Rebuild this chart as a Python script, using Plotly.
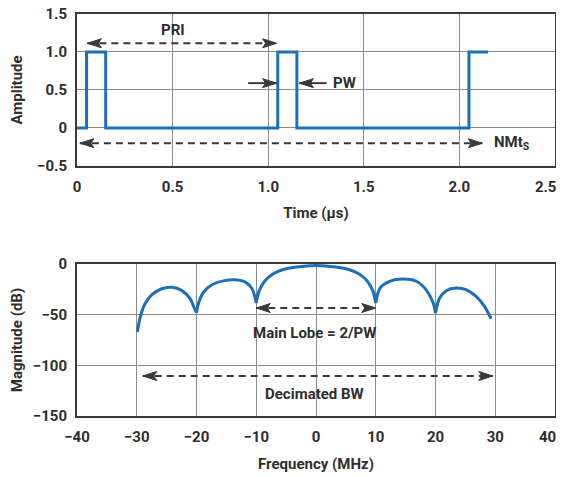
import plotly.graph_objects as go

# ---- data ----
time_us = [0, 0.05, 0.05, 0.15, 0.15, 1.05, 1.05, 1.15, 1.15, 2.05, 2.05, 2.15]
amplitude = [0, 0, 1, 1, 0, 0, 1, 1, 0, 0, 1, 1]

freq_mhz = [-29.9, -29.4, -28.6, -27.4, -25.8, -24.1, -22.5, -21.1, -20.4, -20.0,
            -19.6, -18.8, -17.4, -15.1, -13.5, -11.8, -10.7, -10.3, -10.0,
            -9.55, -8.6, -7.3, -5.6, -3.3, 0, 3.3, 5.6, 7.3, 8.6, 9.55, 10.0,
            10.3, 10.7, 12.3, 14.5, 16.8, 18.4, 19.7, 20.0,
            20.4, 20.7, 21.8, 23.5, 25.1, 26.8, 28.2, 29.3]
magnitude_db = [-67, -52, -39, -30, -24.4, -23, -26, -34, -43, -48,
                -37.5, -27.6, -20.4, -16.1, -15.5, -17.8, -24.4, -31, -38.5,
                -27, -17, -10, -5.6, -3, -1.5, -3, -5.6, -10, -17, -27, -38.5,
                -30, -23.7, -17, -14.8, -17, -25.3, -40, -48.4,
                -38, -33.5, -26.3, -23.7, -25.3, -31.9, -41.8, -54]
null_freqs = [-20.0, -10.0, 10.0, 20.0]

NB = "\u00a0"
top_xticks = [0, 0.5, 1.0, 1.5, 2.0, 2.5]
top_xlabels = ["0", "0.5", "1.0", "1.5", "2.0", "2.5" + NB * 5]
top_yticks = [-0.5, 0, 0.5, 1.0, 1.5]
top_ylabels = ["\u22120.5", "0", "0.5", "1.0", "1.5"]
bot_xticks = [-40, -30, -20, -10, 0, 10, 20, 30, 40]
bot_xlabels = ["\u221240", "\u221230", "\u221220", "\u221210", "0", "10", "20", "30", "40" + NB * 4]
bot_yticks = [-150, -100, -50, 0]
bot_ylabels = ["\u2212150", "\u2212100", "\u221250", "0"]

BLUE = "#1c6fb8"
TXT = "#2e2e2e"
GRID = "#8c8c8c"
FRAME = "#3a3a3a"
FONT = dict(family="Roboto", color=TXT, size=15, weight="bold")

fig = go.Figure()
fig.add_trace(go.Scatter(x=time_us, y=amplitude, mode="lines",
                         line=dict(color=BLUE, width=3), xaxis="x", yaxis="y",
                         showlegend=False))

# split spectrum at nulls so cusps stay sharp
seg_idx = [0] + [freq_mhz.index(f) for f in null_freqs] + [len(freq_mhz) - 1]
for a, b in zip(seg_idx[:-1], seg_idx[1:]):
    fig.add_trace(go.Scatter(x=freq_mhz[a:b + 1], y=magnitude_db[a:b + 1], mode="lines",
                             line=dict(color=BLUE, width=3, shape="spline", smoothing=0.8),
                             xaxis="x2", yaxis="y2", showlegend=False))

axis_common = dict(showline=True, mirror=True, linecolor=FRAME, linewidth=2,
                   showgrid=True, gridcolor=GRID, gridwidth=1, zeroline=False,
                   ticks="", automargin=False, ticklabeloverflow="allow",
                   tickfont=dict(size=15, color=TXT, family="Roboto", weight="bold"),
                   title_font=dict(size=15, color=TXT, family="Roboto", weight="bold"))

# page body has an 8px margin, so the figure is sized to the visible area
H = 469
fig.update_layout(
    width=556, height=H,
    margin=dict(l=69, r=9, t=6, b=H - 6 - 402),
    paper_bgcolor="white", plot_bgcolor="white",
    font=FONT,
    xaxis=dict(domain=[0, 1], range=[0, 2.5], tickvals=top_xticks, ticktext=top_xlabels,
               anchor="y", title=dict(text="Time (\u00b5s)", standoff=13),
               ticklabelstandoff=6, **axis_common),
    yaxis=dict(domain=[0.622, 1.0], range=[-0.5, 1.5], tickvals=top_yticks, ticktext=top_ylabels,
               anchor="x", title=dict(text="Amplitude", standoff=11),
               ticklabelstandoff=5, **axis_common),
    xaxis2=dict(domain=[0, 1], range=[-40, 40], tickvals=bot_xticks, ticktext=bot_xlabels,
                anchor="y2", title=dict(text="Frequency (MHz)", standoff=13),
                ticklabelstandoff=6, **axis_common),
    yaxis2=dict(domain=[0, 0.378], range=[-150, 0], tickvals=bot_yticks, ticktext=bot_ylabels,
                anchor="x2", title=dict(text="Magnitude (dB)", standoff=11),
                ticklabelstandoff=5, **axis_common),
)

shapes = []
annotations = []


def head(xref, yref, x, y, direction):
    # slender filled arrowhead (pixel sized) with its tip at (x, y)
    d = direction
    path = f"M0,0 L{-14 * d},4.5 L{-11 * d},0 L{-14 * d},-4.5 Z"
    shapes.append(dict(type="path", xref=xref, yref=yref, xsizemode="pixel",
                       ysizemode="pixel", xanchor=x, yanchor=y, path=path,
                       fillcolor=FRAME, line=dict(color=FRAME, width=1)))


def dashed_double(xref, yref, x0, x1, y):
    shapes.append(dict(type="line", xref=xref, yref=yref, x0=x0, x1=x1, y0=y, y1=y,
                       line=dict(color=FRAME, width=2, dash="7px,5px")))
    head(xref, yref, x0, y, -1)
    head(xref, yref, x1, y, 1)


def solid_arrow(xref, yref, xfrom, xto, y):
    shapes.append(dict(type="line", xref=xref, yref=yref, x0=xfrom, x1=xto, y0=y, y1=y,
                       line=dict(color=FRAME, width=2)))
    head(xref, yref, xto, y, 1 if xto > xfrom else -1)


def label(xref, yref, x, y, text, xanchor="center"):
    annotations.append(dict(xref=xref, yref=yref, x=x, y=y, text=text, showarrow=False,
                            xanchor=xanchor, font=dict(size=15, color=TXT, family="Roboto",
                                                       weight="bold")))


# top chart annotations
dashed_double("x", "y", 0.054, 1.044, 1.115)
label("x", "y", 0.5, 1.29, "PRI")
solid_arrow("x", "y", 0.895, 1.044, 0.59)
solid_arrow("x", "y", 1.306, 1.163, 0.59)
label("x", "y", 1.33, 0.59, "PW", xanchor="left")
dashed_double("x", "y", 0.015, 2.12, -0.2)
label("x", "y", 2.17, -0.2, "NMt<sub>S</sub>", xanchor="left")

# bottom chart annotations
dashed_double("x2", "y2", -10, 10, -43.4)
label("x2", "y2", -0.3, -68, "Main Lobe = 2/PW")
dashed_double("x2", "y2", -29, 29.6, -110.5)
label("x2", "y2", -0.3, -128, "Decimated BW")

fig.update_layout(shapes=shapes, annotations=annotations)

fig.write_html("out.html")
